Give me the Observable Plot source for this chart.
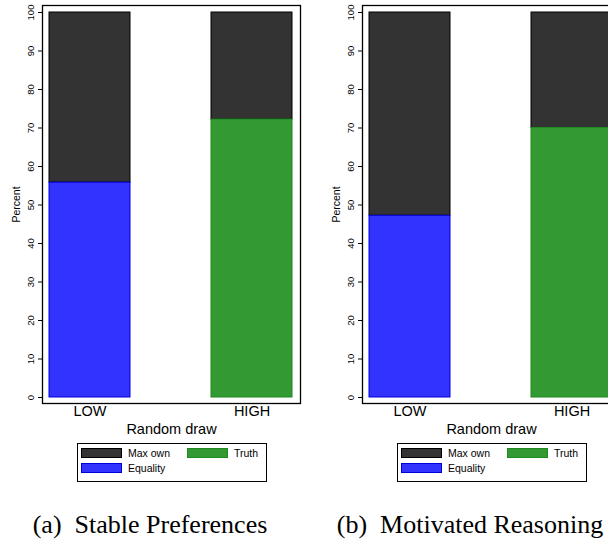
<!DOCTYPE html>
<html>
<head>
<meta charset="utf-8">
<script src="https://cdn.jsdelivr.net/npm/d3@7"></script>
<script src="https://cdn.jsdelivr.net/npm/@observablehq/plot@0.6"></script>
<style>
  html, body { margin: 0; padding: 0; background: #fff; }
  body { width: 608px; height: 542px; overflow: hidden; position: relative; font-family: "Liberation Sans", Arial, sans-serif; }
  .panel { position: absolute; top: 0; width: 300px; height: 542px; }
  .panel svg { position: absolute; left: 0; top: 0; }
  .legend { position: absolute; left: 77px; top: 443px; width: 185px; height: 33px; border: 1px solid #000; background: #fff;
            display: grid; grid-template-columns: 41px 65px 41px auto; grid-auto-rows: 10px; row-gap: 5px;
            padding: 4px 0 0 3px; box-sizing: content-box; }
  .legend .sw { box-sizing: border-box; width: 41px; height: 10px; border: 1px solid #000; }
  .legend .lb { font-size: 10.5px; line-height: 10px; padding-left: 6px; white-space: nowrap; }
  .caption { position: absolute; left: 0; top: 512px; width: 300px; text-align: center;
             font-family: "Liberation Serif", "Times New Roman", serif; font-size: 26px; line-height: 26px; white-space: pre; }
</style>
</head>
<body>
<script>
// ---- data ----
const draws = ["LOW", "HIGH"];
const categories = ["Max own", "Equality", "Truth"];
const stackOrder = ["Equality", "Truth", "Max own"];
const panelTitles = ["(a)  Stable Preferences", "(b)  Motivated Reasoning"];
// Panel (a) Stable Preferences
const stableEquality = [55.8, 0];
const stableTruth = [0, 72.2];
const stableMaxOwn = [44.2, 27.8];
// Panel (b) Motivated Reasoning
const motivatedEquality = [47.2, 0];
const motivatedTruth = [0, 70.0];
const motivatedMaxOwn = [52.8, 30.0];
const yTicks = [0, 10, 20, 30, 40, 50, 60, 70, 80, 90, 100];

// ---- styles ----
const fills = {"Max own": "#333333", "Equality": "#3333ff", "Truth": "#339933"};
const strokes = {"Max own": "#000000", "Equality": "#0000dd", "Truth": "#1f8a1f"};

function rowsFor(eq, tr, mo) {
  const rows = [];
  // Max own rows first so the coloured segments are drawn on top of it
  draws.forEach((d, i) => { if (mo[i] > 0) rows.push({draw: d, category: "Max own", value: mo[i]}); });
  draws.forEach((d, i) => {
    if (eq[i] > 0) rows.push({draw: d, category: "Equality", value: eq[i]});
    if (tr[i] > 0) rows.push({draw: d, category: "Truth", value: tr[i]});
  });
  return rows;
}

function makePanel(rows, title, left) {
  const div = document.createElement("div");
  div.className = "panel";
  div.style.left = left + "px";
  const chart = Plot.plot({
    width: 300,
    height: 440,
    marginLeft: 42,
    marginRight: 0,
    marginTop: 5,
    marginBottom: 37,
    style: {fontFamily: "'Liberation Sans', Arial, sans-serif", background: "white", color: "black", overflow: "visible"},
    x: {domain: draws, paddingInner: 0.497, paddingOuter: 0.04, label: null},
    y: {domain: [0, 100], insetTop: 7, insetBottom: 6},
    color: {type: "identity"},
    marks: [
      Plot.barY(rows, {x: "draw", y: "value", z: "category", order: stackOrder,
                       fill: d => fills[d.category], stroke: d => strokes[d.category], strokeWidth: 1}),
      Plot.frame({stroke: "black", strokeWidth: 1.3}),
      Plot.axisY({ticks: yTicks, tickSize: 4, tickRotate: -90, fontSize: 9.5, label: null}),
      Plot.axisY({ticks: [], tickSize: 0, fontSize: 10.5, label: "Percent", labelAnchor: "center", labelArrow: "none", labelOffset: 30}),
      Plot.axisX({tickSize: 0, tickPadding: 2, fontSize: 14.5, label: "Random draw", labelAnchor: "center", labelArrow: "none", labelOffset: 30})
    ]
  });
  div.appendChild(chart);
  // legend
  const lg = document.createElement("div");
  lg.className = "legend";
  const order = [["Max own", "Truth"], ["Equality", null]];
  order.forEach(r => r.forEach(cat => {
    const sw = document.createElement("div");
    const lb = document.createElement("div");
    if (cat) {
      sw.className = "sw";
      sw.style.background = fills[cat];
      sw.style.borderColor = strokes[cat];
      lb.className = "lb";
      lb.textContent = cat;
    }
    lg.appendChild(sw); lg.appendChild(lb);
  }));
  div.appendChild(lg);
  const cap = document.createElement("div");
  cap.className = "caption";
  cap.textContent = title;
  div.appendChild(cap);
  document.body.appendChild(div);
}

makePanel(rowsFor(stableEquality, stableTruth, stableMaxOwn), panelTitles[0], 0);
makePanel(rowsFor(motivatedEquality, motivatedTruth, motivatedMaxOwn), panelTitles[1], 320);
</script>
</body>
</html>
